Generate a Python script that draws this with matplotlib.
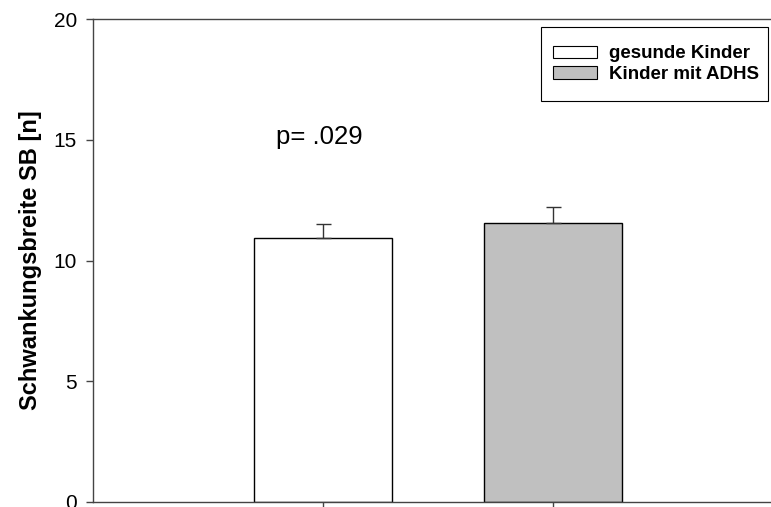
import matplotlib.pyplot as plt
from matplotlib.patches import Patch, Rectangle

plt.rcParams["font.family"] = ["Liberation Sans", "DejaVu Sans"]

# group means and SEM
groups = ["gesunde Kinder", "Kinder mit ADHS"]
means = [10.92, 11.54]
sems = [0.59, 0.69]
colors = ["white", "#c0c0c0"]
positions = [1, 2]
yticks = [0, 5, 10, 15, 20]
p_label = "p= .029"

W, H = 771, 507
fig = plt.figure(figsize=(W / 100, H / 100), dpi=100)
ax = fig.add_axes([93 / W, (H - 501.7) / H, 690 / W, 482.4 / H])

ax.bar(positions, means, width=0.6, color=colors, edgecolor="black",
       linewidth=1.0, zorder=2)
ax.errorbar(positions, means, yerr=[[0, 0], sems], fmt="none",
            ecolor="#333333", elinewidth=1.0, capsize=5.4, capthick=1.0,
            zorder=3)

ax.set_xlim(0, 3)
ax.set_ylim(0, 20)
ax.set_yticks(yticks)
ax.set_xticks(positions)
ax.set_xticklabels([])
ax.tick_params(axis="y", direction="out", length=5, width=1,
               color="#444444", labelsize=15, pad=6.5)
ax.tick_params(axis="x", direction="out", length=5, width=1, color="#444444")
for side in ["left", "bottom", "top"]:
    ax.spines[side].set_color("#444444")
    ax.spines[side].set_linewidth(1.0)
ax.spines["right"].set_visible(False)

ax.set_ylabel("Schwankungsbreite SB [n]", fontsize=17, fontweight="bold",
              labelpad=8.5)

ax.text(0.985, 15.13, p_label, fontsize=18.5, ha="center", va="center")

# legend entries without frame, box drawn separately
handles = [Patch(facecolor=c, edgecolor="black", linewidth=0.8) for c in colors]
leg = fig.legend(handles, groups, loc="upper left",
                 bbox_to_anchor=(553.3 / W, 1 - 45.5 / H),
                 bbox_transform=fig.transFigure,
                 prop={"size": 13.5, "weight": "bold"},
                 frameon=False,
                 handlelength=2.35, handleheight=0.65, handletextpad=0.6,
                 borderpad=0, labelspacing=0.2, borderaxespad=0)
fig.add_artist(Rectangle((540.7 / W, 1 - 100.7 / H), (768 - 540.7) / W,
                         74 / H, transform=fig.transFigure, fill=False,
                         edgecolor="black", linewidth=0.8))

fig.savefig("out.png", dpi=100)
